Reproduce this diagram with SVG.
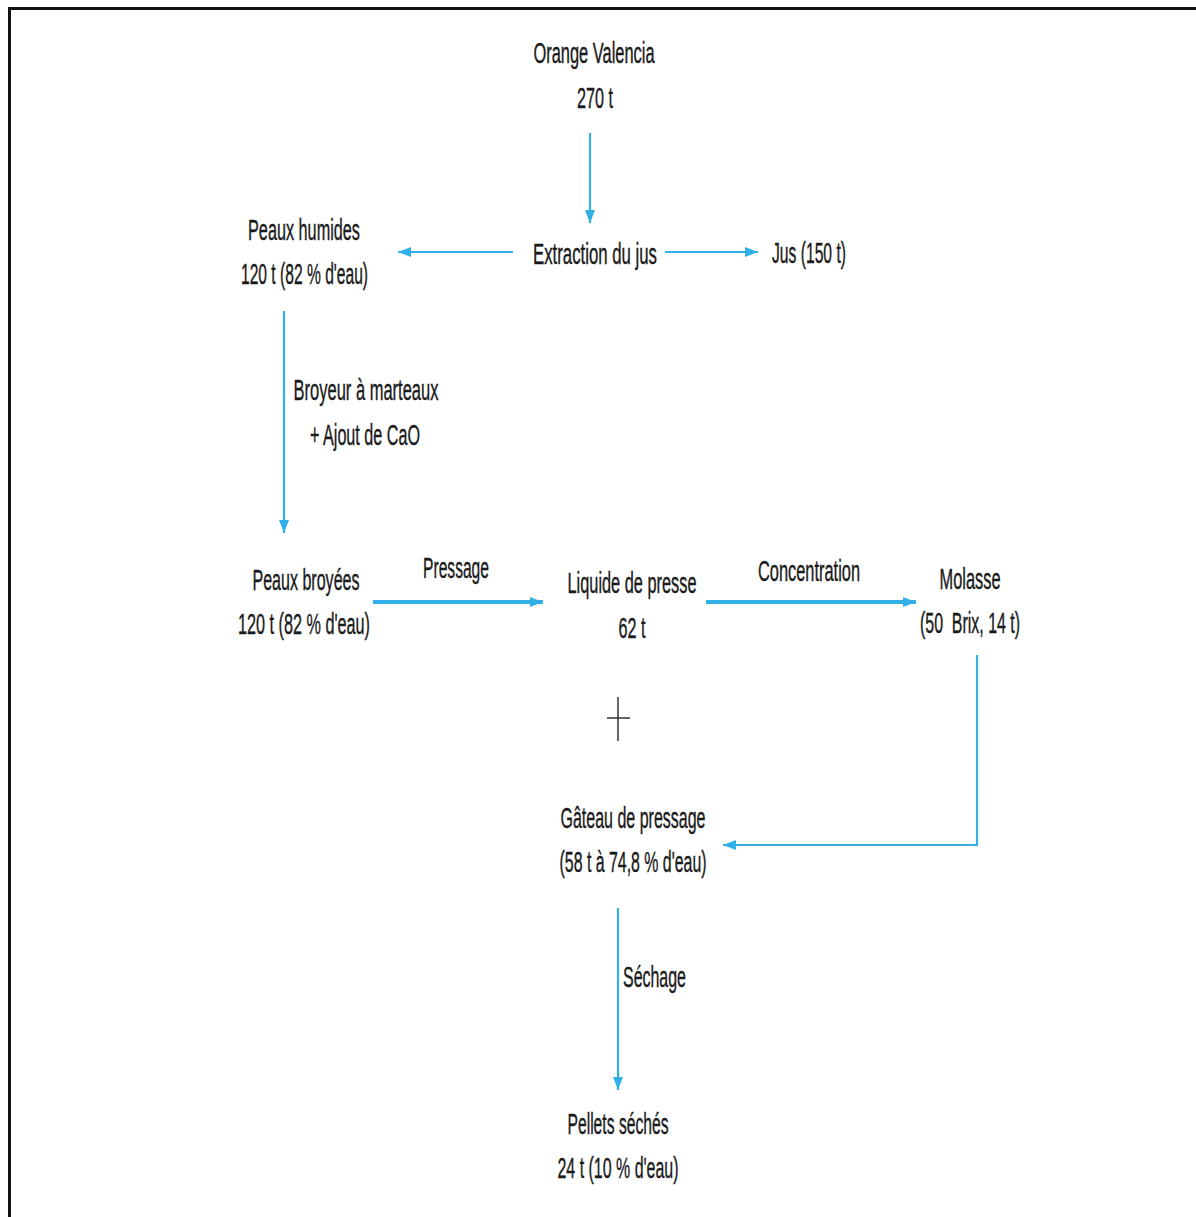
<svg xmlns="http://www.w3.org/2000/svg" width="1196" height="1217" viewBox="0 0 1196 1217">
  <style>
    .t { font-family: "Liberation Sans", Arial, sans-serif; font-size: 29px; fill: #1a1a1a; stroke: #1a1a1a; stroke-width: 0.4; text-anchor: middle; }
    .l { text-anchor: start; }
    .c { fill: none; stroke: #30b0e6; stroke-width: 2.2; }
    .w { stroke-width: 4; }
    .frame { fill: none; stroke: #111; stroke-width: 3; }
  </style>
  <defs>
    <marker id="ah" viewBox="0 0 13 10" refX="13" refY="5" markerWidth="13" markerHeight="10" markerUnits="userSpaceOnUse" orient="auto">
      <path d="M0,0 L13,5 L0,10 Z" fill="#30b0e6"/>
    </marker>
  </defs>
  <rect width="1196" height="1217" fill="#fff"/>
  <!-- page frame -->
  <path class="frame" d="M9.5,1217 V8.5 H1196"/>

  <!-- connectors -->
  <g id="connectors">
    <line class="c" x1="590" y1="133" x2="590" y2="223" marker-end="url(#ah)"/>
    <line class="c" x1="513" y1="252" x2="398" y2="252" marker-end="url(#ah)"/>
    <line class="c" x1="665" y1="252" x2="758" y2="252" marker-end="url(#ah)"/>
    <line class="c" x1="284" y1="311" x2="284" y2="533" marker-end="url(#ah)"/>
    <line class="c w" x1="373" y1="602" x2="543" y2="602" marker-end="url(#ah)"/>
    <line class="c w" x1="706" y1="602" x2="916" y2="602" marker-end="url(#ah)"/>
    <polyline class="c" points="977,655 977,845 723,845" marker-end="url(#ah)"/>
    <line class="c" x1="618" y1="908" x2="618" y2="1090" marker-end="url(#ah)"/>
  </g>

  <!-- labels use a horizontally condensed sans (scale 0.565 on x) -->
  <g id="orange">
    <text class="t" transform="translate(594,63) scale(0.565,1)" textLength="214.2" lengthAdjust="spacingAndGlyphs">Orange Valencia</text>
    <text class="t" transform="translate(595,108) scale(0.565,1)" textLength="63.7" lengthAdjust="spacingAndGlyphs">270 t</text>
  </g>
  <g id="extraction">
    <text class="t" transform="translate(595,264) scale(0.565,1)" textLength="219.5" lengthAdjust="spacingAndGlyphs">Extraction du jus</text>
  </g>
  <g id="jus">
    <text class="t" transform="translate(809,263) scale(0.565,1)" textLength="131" lengthAdjust="spacingAndGlyphs">Jus (150 t)</text>
  </g>
  <g id="peaux-humides">
    <text class="t" transform="translate(304,240) scale(0.565,1)" textLength="198.2" lengthAdjust="spacingAndGlyphs">Peaux humides</text>
    <text class="t" transform="translate(304.5,284) scale(0.565,1)" textLength="224.8" lengthAdjust="spacingAndGlyphs">120 t (82 % d'eau)</text>
  </g>
  <g id="broyeur">
    <text class="t" transform="translate(366,400) scale(0.565,1)" textLength="256.6" lengthAdjust="spacingAndGlyphs">Broyeur à marteaux</text>
    <text class="t" transform="translate(365,445) scale(0.565,1)" textLength="194.7" lengthAdjust="spacingAndGlyphs">+ Ajout de CaO</text>
  </g>
  <g id="peaux-broyees">
    <text class="t" transform="translate(306,590) scale(0.565,1)" textLength="189.4" lengthAdjust="spacingAndGlyphs">Peaux broyées</text>
    <text class="t" transform="translate(304,634) scale(0.565,1)" textLength="233.6" lengthAdjust="spacingAndGlyphs">120 t (82 % d'eau)</text>
  </g>
  <g id="pressage">
    <text class="t" transform="translate(456,578) scale(0.565,1)" textLength="116.8" lengthAdjust="spacingAndGlyphs">Pressage</text>
  </g>
  <g id="liquide">
    <text class="t" transform="translate(632,593) scale(0.565,1)" textLength="228.3" lengthAdjust="spacingAndGlyphs">Liquide de presse</text>
    <text class="t" transform="translate(632,638) scale(0.565,1)" textLength="47.8" lengthAdjust="spacingAndGlyphs">62 t</text>
  </g>
  <g id="concentration">
    <text class="t" transform="translate(809,581) scale(0.565,1)" textLength="180.5" lengthAdjust="spacingAndGlyphs">Concentration</text>
  </g>
  <g id="molasse">
    <text class="t" transform="translate(970,589) scale(0.565,1)" textLength="108" lengthAdjust="spacingAndGlyphs">Molasse</text>
    <text class="t" transform="translate(970,633) scale(0.565,1)" textLength="177" lengthAdjust="spacingAndGlyphs" xml:space="preserve">(50  Brix, 14 t)</text>
  </g>
  <g id="plus">
    <line x1="618" y1="697" x2="618" y2="741" stroke="#333" stroke-width="1.5"/>
    <line x1="607" y1="718" x2="630" y2="718" stroke="#333" stroke-width="1.5"/>
  </g>
  <g id="gateau">
    <text class="t" transform="translate(633,828) scale(0.565,1)" textLength="256.6" lengthAdjust="spacingAndGlyphs">Gâteau de pressage</text>
    <text class="t" transform="translate(633,872) scale(0.565,1)" textLength="260.2" lengthAdjust="spacingAndGlyphs">(58 t à 74,8 % d'eau)</text>
  </g>
  <g id="sechage">
    <text class="t l" transform="translate(623,987) scale(0.565,1)" textLength="111.5" lengthAdjust="spacingAndGlyphs">Séchage</text>
  </g>
  <g id="pellets">
    <text class="t" transform="translate(618,1134) scale(0.565,1)" textLength="178.8" lengthAdjust="spacingAndGlyphs">Pellets séchés</text>
    <text class="t" transform="translate(618,1178) scale(0.565,1)" textLength="214.2" lengthAdjust="spacingAndGlyphs">24 t (10 % d'eau)</text>
  </g>
</svg>
